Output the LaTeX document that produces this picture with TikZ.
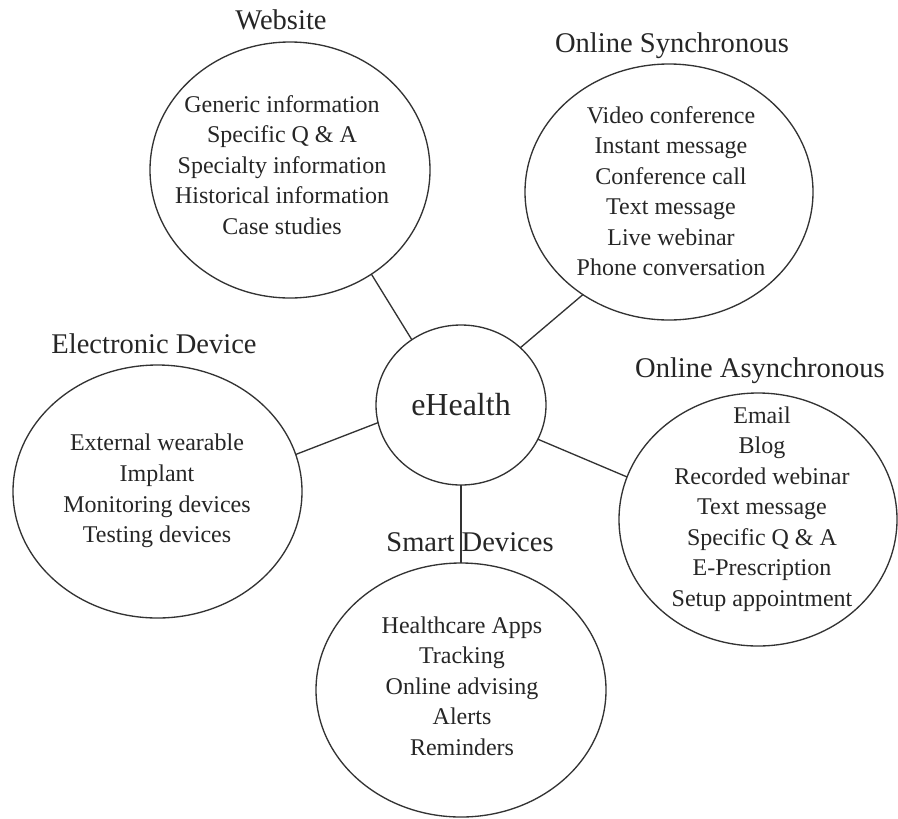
\documentclass[tikz,border=0pt]{standalone}
\usepackage{fontspec}
\setmainfont{Liberation Serif}
\usetikzlibrary{shapes.geometric}
\begin{document}
\begin{tikzpicture}[x=0.75pt,y=-0.75pt,
  bubble/.style={draw=black!80, line width=1pt, ellipse, inner sep=0pt, outer sep=0pt},
  items/.style={align=center, font=\fontsize{18}{22.9}\selectfont, text=black!85, inner sep=0pt},
  title/.style={anchor=base, font=\fontsize{21.4}{25}\selectfont, text=black!85, inner sep=0pt},
  link/.style={draw=black!80, line width=1pt}]
\useasboundingbox[fill=white] (0,0) rectangle (898,818);

% bubbles
\node[bubble, minimum width=210pt, minimum height=192pt] (web) at (290,170) {};
\node[bubble, minimum width=216pt, minimum height=192pt] (sync) at (669,192) {};
\node[bubble, minimum width=216.75pt, minimum height=189.75pt] (elec) at (157.5,491.5) {};
\node[bubble, minimum width=208.5pt, minimum height=189.75pt] (async) at (758,519.5) {};
\node[bubble, minimum width=217.5pt, minimum height=190.5pt] (smart) at (461,690) {};
\node[bubble, minimum width=127.5pt, minimum height=120pt,
      font=\fontsize{24}{28}\selectfont, text=black!85] (eh) at (461,405) {eHealth};

% titles
\node[title] (tweb) at (281,29) {Website};
\node[title] (tsync) at (672,52.5) {Online Synchronous};
\node[title] (telec) at (154,353) {Electronic Device};
\node[title] (tasync) at (760,377) {Online Asynchronous};
\node[title] (tsmart) at (470,551.5) {Smart Devices};

% item lists
\node[items] (iweb) at (282,165) {Generic information\\Specific Q \& A\\Specialty information\\Historical information\\Case studies};
\node[items] (isync) at (671,191) {Video conference\\Instant message\\Conference call\\Text message\\Live webinar\\Phone conversation};
\node[items] (ielec) at (157,491) {External wearable\\Implant\\Monitoring devices\\Testing devices};
\node[items] (iasync) at (762,509) {Email\\Blog\\Recorded webinar\\Text message\\Specific Q \& A\\E-Prescription\\Setup appointment};
\node[items] (ismart) at (462,686) {Healthcare Apps\\Tracking\\Online advising\\Alerts\\Reminders};

% connectors
\draw[link] (web.-52) -- (eh.127);
\draw[link] (sync.230) -- (eh.44);
\draw[link] (elec.15) -- (eh.192);
\draw[link] (async.162) -- (eh.-24);
\draw[link] (eh.270) -- (smart.90);
\end{tikzpicture}
\end{document}
